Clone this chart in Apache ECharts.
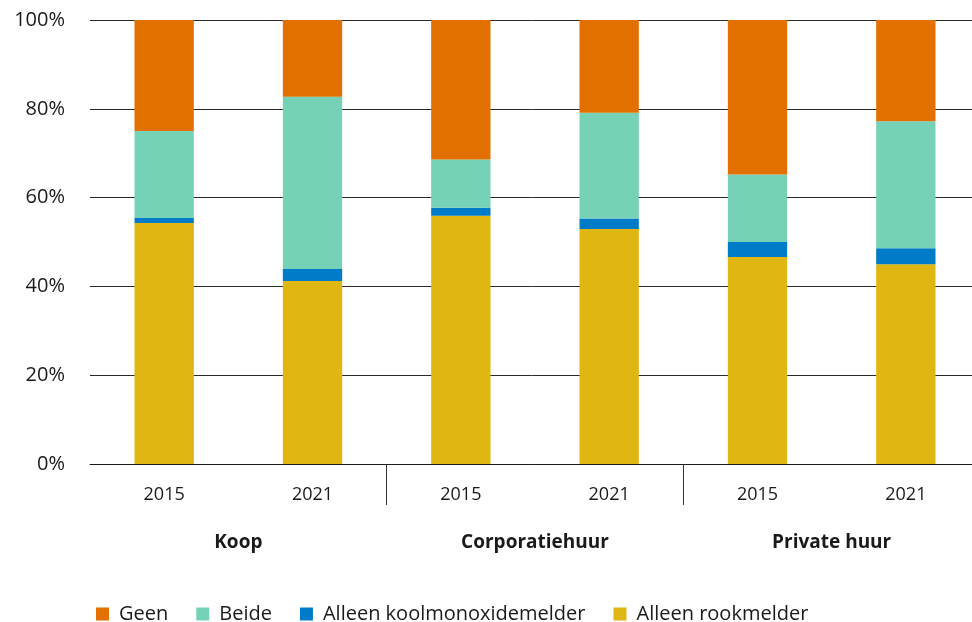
<!DOCTYPE html>
<html><head><meta charset="utf-8">
<script src="https://cdn.jsdelivr.net/npm/echarts@6/dist/echarts.min.js"></script>
<style>html,body{margin:0;padding:0;background:#fff}#c{width:972px;height:622px}</style>
</head><body><div id="c"></div>
<script>
const years = ['2015','2021','2015','2021','2015','2021'];
const groups = ['Koop','Corporatiehuur','Private huur'];
const rookmelder = [54.3, 41.2, 55.9, 52.9, 46.6, 45.0];
const koolmonoxide = [1.1, 2.7, 1.8, 2.4, 3.4, 3.6];
const beide = [19.6, 38.8, 10.9, 23.8, 15.2, 28.6];
const geen = [25.0, 17.3, 31.4, 20.9, 34.8, 22.8];
const yTicks = [0, 20, 40, 60, 80, 100];

const FONT = '"Open Sans"';
const chart = echarts.init(document.getElementById('c'));
function bar(name, data, color) {
  return {name, type:'bar', stack:'a', data, barWidth:'40%', itemStyle:{color}, xAxisIndex:0, yAxisIndex:0};
}
chart.setOption({
  animation:false,
  textStyle:{fontFamily:FONT},
  grid:{left:90, width:890, top:20, bottom:158, outerBoundsMode:'none', containLabel:false},
  legend:{
    left:91, top:599, itemWidth:13, itemHeight:13, itemGap:28,
    icon:'rect',
    textStyle:{fontSize:20, color:'#1a1a1a', fontFamily:FONT, padding:[0,0,0,5]},
    data:['Geen','Beide','Alleen koolmonoxidemelder','Alleen rookmelder']
  },
  xAxis:[
    {type:'category', data:years, position:'bottom',
     axisLine:{show:true, lineStyle:{color:'#1a1a1a', width:1}},
     axisTick:{show:false},
     axisLabel:{fontSize:18, color:'#1a1a1a', margin:22, fontFamily:FONT}},
    {type:'category', data:groups, position:'bottom',
     axisLine:{show:false},
     axisTick:{show:true, length:41, lineStyle:{color:'#333', width:1},
       interval:function(i){return i!==0;}},
     axisLabel:{fontSize:19, fontWeight:'bold', color:'#1a1a1a', margin:69, fontFamily:FONT}}
  ],
  yAxis:{type:'value', min:yTicks[0], max:yTicks[yTicks.length-1], interval:20,
    axisLine:{show:false}, axisTick:{show:false},
    splitLine:{lineStyle:{color:'#2a2a2a', width:1}},
    axisLabel:{formatter:'{value}%', fontSize:20, color:'#1a1a1a', margin:25, fontFamily:FONT}},
  series:[
    bar('Alleen rookmelder', rookmelder, '#e0b612'),
    bar('Alleen koolmonoxidemelder', koolmonoxide, '#007bc7'),
    bar('Beide', beide, '#76d2b6'),
    bar('Geen', geen, '#e17000')
  ]
});
</script></body></html>
